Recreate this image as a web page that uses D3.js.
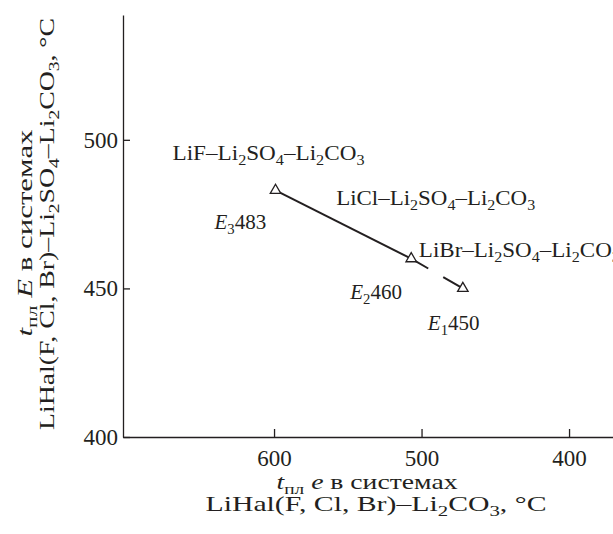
<!DOCTYPE html>
<html>
<head>
<meta charset="utf-8">
<script src="https://cdn.jsdelivr.net/npm/d3@7"></script>
<style>
  body { margin: 0; background: #fff; }
  svg { display: block; }
  text { font-family: "Liberation Serif", "Times New Roman", serif; fill: #231f20; }
  .axis path, .axis line { stroke: #231f20; stroke-width: 1.3; }
</style>
</head>
<body>
<div id="chart"></div>
<script>
// systems (ternary), eutectic temps of binary LiHal-Li2CO3 (x) and ternary (y)
var systems   = ["LiF–Li_{2}SO_{4}–Li_{2}CO_{3}", "LiCl–Li_{2}SO_{4}–Li_{2}CO_{3}", "LiBr–Li_{2}SO_{4}–Li_{2}CO_{3}"];
var pointNames = ["*E*_{3}", "*E*_{2}", "*E*_{1}"];
var binaryE   = [599, 507, 472];
var ternaryE  = [483, 460, 450];
var xTicks    = [600, 500, 400];
var yTicks    = [400, 450, 500];
var xTitle    = ["*t*_{пл} *e* в системах", "LiHal(F, Cl, Br)–Li_{2}CO_{3}, °C"];
var yTitle    = ["*t*_{пл} *E* в системах", "LiHal(F, Cl, Br)–Li_{2}SO_{4}–Li_{2}CO_{3}, °C"];

var width  = 613;
var height = 534;
var serif  = "'Liberation Serif', 'Times New Roman', serif";

var svg = d3.select("#chart").append("svg").attr("width", width).attr("height", height);

var x = d3.scaleLinear().domain([702.4, 370.2]).range([123, 613]);
var y = d3.scaleLinear().domain([400, 542]).range([437, 15]);

// write text with _{sub} and *italic* markup into tspans
function rich(sel, str, size, len) {
    var re = /(\*[^*]+\*)|(_\{[^}]+\})|([^*_]+)/g, m, shift = 0;
    sel.attr("font-size", size).style("font-family", serif);
    if (len) sel.attr("textLength", len).attr("lengthAdjust", "spacingAndGlyphs");
    while ((m = re.exec(str)) !== null) {
        var t;
        if (m[2]) {
            t = sel.append("tspan").attr("font-size", size * 0.7).text(m[2].slice(2, -1));
            t.attr("dy", size * 0.23 - shift);
            shift = size * 0.23;
            continue;
        }
        t = sel.append("tspan").attr("font-size", size);
        if (m[1]) t.style("font-style", "italic").text(m[1].slice(1, -1));
        else t.text(m[3]);
        if (shift) { t.attr("dy", -shift); shift = 0; }
    }
    return sel;
}

var xAxis = d3.axisBottom(x).tickValues(xTicks).tickSizeInner(-8).tickSizeOuter(0).tickPadding(13);
var yAxis = d3.axisLeft(y).tickValues(yTicks).tickSizeInner(-7).tickSizeOuter(0).tickPadding(5);

svg.append("g").attr("class", "x axis").attr("transform", "translate(0," + y(400) + ")").call(xAxis);
svg.append("g").attr("class", "y axis").attr("transform", "translate(" + x(702.4) + ",0)").call(yAxis);

svg.selectAll(".axis").attr("font-family", serif).attr("font-size", 23);
svg.selectAll(".axis text").attr("fill", "#231f20");

// tie line between eutectics: solid F -> Cl, dashed Cl -> Br
var line = d3.line().x(function(d){return x(d[0]);}).y(function(d){return y(d[1]);});
var pts = binaryE.map(function(b, i){return [b, ternaryE[i]];});

svg.append("path").attr("d", line(pts.slice(0, 2)))
   .attr("fill", "none").attr("stroke", "#231f20").attr("stroke-width", 2);

var dashed = svg.append("path").attr("d", line(pts.slice(1, 3)))
   .attr("fill", "none").attr("stroke", "#231f20").attr("stroke-width", 2);
var len = dashed.node().getTotalLength();
dashed.attr("stroke-dasharray", (len * 0.33) + "," + (len * 0.29) + "," + len);

svg.selectAll(".mark").data(pts).enter().append("path").attr("class", "mark")
   .attr("d", d3.symbol().type(d3.symbolTriangle).size(48))
   .attr("transform", function(d){return "translate(" + x(d[0]) + "," + y(d[1]) + ")";})
   .attr("fill", "#fff").attr("stroke", "#231f20").attr("stroke-width", 1.3);

// label offsets from each point, and the widths the labels take
var sysOffset  = [[-103, -30], [-75, -54], [-44, -31]];
var sysWidth   = [192, 199, 201];
var nameOffset = [[-61, 39], [-61, 40], [-35, 42]];

systems.forEach(function(s, i) {
    rich(svg.append("text")
        .attr("x", x(binaryE[i]) + sysOffset[i][0])
        .attr("y", y(ternaryE[i]) + sysOffset[i][1]), s, 21, sysWidth[i]);
    rich(svg.append("text")
        .attr("x", x(binaryE[i]) + nameOffset[i][0])
        .attr("y", y(ternaryE[i]) + nameOffset[i][1]), pointNames[i] + ternaryE[i], 21);
});

// axis titles
var xTitlePos = [[367, 489, 181], [376, 511, 341]];
var yTitlePos = [[32, 233, 207], [54, 224, 412]];

xTitle.forEach(function(t, i) {
    var p = xTitlePos[i];
    rich(svg.append("text").attr("x", p[0] - p[2] / 2).attr("y", p[1]), t, 22, p[2]);
});
yTitle.forEach(function(t, i) {
    var p = yTitlePos[i];
    rich(svg.append("text").attr("transform", "translate(" + p[0] + "," + p[1] + ") rotate(-90)")
        .attr("x", -p[2] / 2), t, 22, p[2]);
});
</script>
</body>
</html>
